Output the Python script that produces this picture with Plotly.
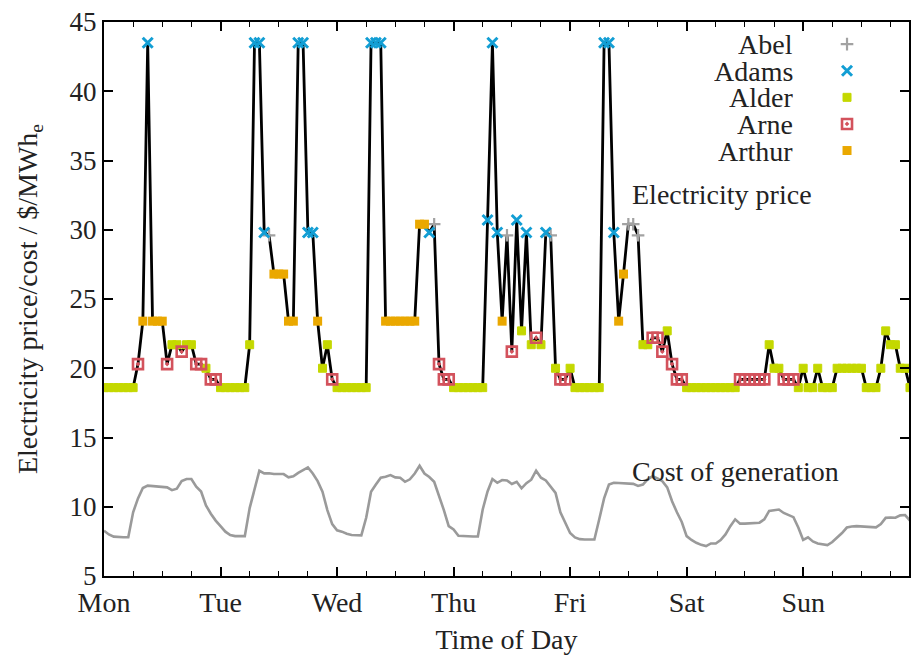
import plotly.graph_objects as go

# ---------------- data ----------------
day_labels = ["Mon", "Tue", "Wed", "Thu", "Fri", "Sat", "Sun"]
day_ticks = [0, 24, 48, 72, 96, 120, 144]

# hourly electricity price ($/MWh_e), hours 0..166
price = [
    # Mon
    18.6, 18.6, 18.6, 18.6, 18.6, 18.6, 18.6, 20.3, 23.4, 43.5, 23.4, 23.4,
    23.4, 20.3, 21.7, 21.7, 21.2, 21.7, 21.7, 20.3, 20.3, 20.0, 19.2, 19.2,
    # Tue
    18.6, 18.6, 18.6, 18.6, 18.6, 18.6, 21.7, 43.5, 43.5, 29.8, 29.6, 26.8,
    26.8, 26.8, 23.4, 23.4, 43.5, 43.5, 29.8, 29.8, 23.4, 20.0, 21.7, 19.2,
    # Wed
    18.6, 18.6, 18.6, 18.6, 18.6, 18.6, 18.6, 43.5, 43.5, 43.5, 23.4, 23.4,
    23.4, 23.4, 23.4, 23.4, 23.4, 30.4, 30.4, 29.8, 30.4, 20.3, 19.2, 19.2,
    # Thu
    18.6, 18.6, 18.6, 18.6, 18.6, 18.6, 18.6, 30.7, 43.5, 29.8, 23.4, 29.6,
    21.2, 30.7, 22.7, 29.8, 21.7, 22.2, 21.7, 29.8, 29.6, 20.0, 19.2, 19.2,
    # Fri
    20.0, 18.6, 18.6, 18.6, 18.6, 18.6, 18.6, 43.5, 43.5, 29.8, 23.4, 26.8,
    30.4, 30.4, 29.6, 21.7, 21.7, 22.2, 22.2, 21.2, 22.7, 20.3, 19.2, 19.2,
    # Sat
    18.6, 18.6, 18.6, 18.6, 18.6, 18.6, 18.6, 18.6, 18.6, 18.6, 18.6, 19.2,
    19.2, 19.2, 19.2, 19.2, 19.2, 21.7, 20.0, 20.0, 19.2, 19.2, 19.2, 18.6,
    # Sun
    20.0, 18.6, 18.6, 20.0, 18.6, 18.6, 18.6, 20.0, 20.0, 20.0, 20.0, 20.0,
    20.0, 18.6, 18.6, 18.6, 20.0, 22.7, 21.7, 21.7, 20.0, 20.0, 18.6,
]

# marginal generator setting the price each hour
price_setter = (
    # Mon
    ["Alder"] * 7 + ["Arne", "Arthur", "Adams", "Arthur", "Arthur", "Arthur", "Arne",
                     "Alder", "Alder", "Arne", "Alder", "Alder", "Arne", "Arne",
                     "Alder", "Arne", "Arne"]
    # Tue
    + ["Alder"] * 6 + ["Alder", "Adams", "Adams", "Adams", "Abel", "Arthur", "Arthur",
                       "Arthur", "Arthur", "Arthur", "Adams", "Adams", "Adams", "Adams",
                       "Arthur", "Alder", "Alder", "Arne"]
    # Wed
    + ["Alder"] * 7 + ["Adams"] * 3 + ["Arthur"] * 7
    + ["Arthur", "Arthur", "Adams", "Abel", "Arne", "Arne", "Arne"]
    # Thu
    + ["Alder"] * 7 + ["Adams", "Adams", "Adams", "Arthur", "Abel", "Arne", "Adams",
                       "Alder", "Adams", "Alder", "Arne", "Alder", "Adams", "Abel",
                       "Alder", "Arne", "Arne"]
    # Fri
    + ["Alder"] * 7 + ["Adams", "Adams", "Adams", "Arthur", "Arthur", "Abel", "Abel",
                       "Abel", "Alder", "Alder", "Arne", "Arne", "Arne", "Alder",
                       "Arne", "Arne", "Arne"]
    # Sat
    + ["Alder"] * 11 + ["Arne"] * 6 + ["Alder", "Alder", "Alder", "Arne", "Arne", "Arne", "Alder"]
    # Sun
    + ["Alder"] * 23
)

# hourly cost of generation ($/MWh_e), hours 0..166
cost = [
    8.27, 8.0, 7.84, 7.8, 7.8, 7.8, 9.6, 10.6, 11.35, 11.52, 11.5, 11.45,
    11.42, 11.4, 11.2, 11.3, 11.85, 12.0, 12.0, 11.45, 11.1, 10.1, 9.5, 9.0,
    8.6, 8.2, 7.95, 7.88, 7.88, 7.88, 9.9, 11.2, 12.6, 12.41, 12.42, 12.36,
    12.36, 12.36, 12.12, 12.2, 12.45, 12.65, 12.84, 12.4, 11.85, 11.08, 9.76, 8.75,
    8.3, 8.2, 8.05, 7.96, 7.93, 7.93, 9.2, 11.08, 11.6, 12.1, 12.17, 12.29,
    12.12, 12.1, 11.8, 11.98, 12.4, 12.96, 12.4, 12.15, 11.8, 10.84, 9.76, 8.6,
    8.36, 7.9, 7.87, 7.85, 7.85, 7.86, 9.8, 11.1, 12.0, 11.73, 11.93, 11.9,
    11.64, 11.8, 11.33, 11.7, 11.95, 12.6, 12.1, 11.9, 11.45, 11.0, 9.6, 8.9,
    8.1, 7.79, 7.66, 7.64, 7.64, 7.64, 9.1, 10.6, 11.6, 11.73, 11.72, 11.69,
    11.69, 11.65, 11.5, 11.6, 12.0, 12.2, 12.05, 11.85, 11.4, 10.4, 9.6, 8.9,
    7.88, 7.6, 7.4, 7.25, 7.16, 7.35, 7.35, 7.6, 8.0, 8.6, 9.09, 8.78,
    8.78, 8.8, 8.82, 8.85, 9.09, 9.7, 9.75, 9.8, 9.55, 9.4, 9.25, 8.5,
    7.6, 7.79, 7.5, 7.35, 7.28, 7.23, 7.45, 7.75, 8.1, 8.5, 8.58, 8.6,
    8.57, 8.55, 8.52, 8.51, 8.75, 9.2, 9.22, 9.21, 9.38, 9.4, 9.0,
]

hours = list(range(len(price)))

generators = ["Abel", "Adams", "Alder", "Arne", "Arthur"]
gen_style = {
    "Abel":   dict(symbol="cross-thin", size=9, color="#a2a2a2", line=dict(width=2.2, color="#a2a2a2")),
    "Adams":  dict(symbol="x-thin", size=10, color="#129ed4", line=dict(width=3, color="#129ed4")),
    "Alder":  dict(symbol="square", size=8, color="#c4d800", line=dict(width=1, color="#c4d800")),
    "Arne":   dict(symbol="square-open-dot", size=10, color="#d3525c", line=dict(width=2.6, color="#d3525c")),
    "Arthur": dict(symbol="square", size=9, color="#eaa800", line=dict(width=0, color="#eaa800")),
}

FONT = "Liberation Serif"
TXT = "#222222"
FS = 28

fig = go.Figure()

# cost of generation
fig.add_trace(go.Scatter(x=hours[:len(cost)], y=cost, mode="lines",
                         line=dict(color="#9a9a9a", width=2.6), hoverinfo="skip",
                         showlegend=False))
# electricity price line
fig.add_trace(go.Scatter(x=hours, y=price, mode="lines",
                         line=dict(color="black", width=2.8), hoverinfo="skip",
                         showlegend=False))
# markers by price setter
for g in generators:
    xs = [h for h, s in zip(hours, price_setter) if s == g]
    ys = [p for p, s in zip(price, price_setter) if s == g]
    fig.add_trace(go.Scatter(x=xs, y=ys, mode="markers", name=g,
                             marker=gen_style[g], showlegend=False))

# legend (text then symbol, as in the original)
leg_rows = [0.960, 0.912, 0.864, 0.816, 0.768]
for g, yy in zip(generators, leg_rows):
    fig.add_annotation(x=0.859, y=yy, xref="paper", yref="paper", text=g,
                       showarrow=False, xanchor="right", yanchor="middle",
                       height=26, font=dict(family=FONT, size=FS, color=TXT))
    fig.add_trace(go.Scatter(x=[0.923], y=[yy], xaxis="x2", yaxis="y2",
                             mode="markers", marker=gen_style[g], cliponaxis=False,
                             hoverinfo="skip", showlegend=False))

fig.add_annotation(x=0.653, y=0.6895, xref="paper", yref="paper",
                   text="Electricity price", showarrow=False, xanchor="left",
                   yanchor="middle", font=dict(family=FONT, size=FS, color=TXT))
fig.add_annotation(x=0.653, y=0.188, xref="paper", yref="paper",
                   text="Cost of generation", showarrow=False, xanchor="left",
                   yanchor="middle", font=dict(family=FONT, size=FS, color=TXT))

minor_vals = [h for h in range(6, 168, 6) if h % 24 != 0]

fig.update_layout(
    width=911, height=655,
    margin=dict(l=104, r=0, t=22, b=79),
    paper_bgcolor="white", plot_bgcolor="white",
    showlegend=False,
    font=dict(family=FONT, size=FS, color=TXT),
    xaxis=dict(range=[0, 165.8], tickvals=day_ticks, ticktext=day_labels,
               ticks="inside", ticklen=9, tickwidth=1.5, tickcolor="black",
               minor=dict(tickvals=minor_vals, ticks="inside", ticklen=5,
                          tickwidth=1.2, tickcolor="black"),
               showline=True, linecolor="black", linewidth=2, mirror="allticks",
               showgrid=False, zeroline=False,
               tickfont=dict(family=FONT, size=FS, color=TXT),
               title=dict(text="Time of Day", font=dict(family=FONT, size=FS, color=TXT),
                          standoff=14)),
    yaxis=dict(range=[5, 45], tickvals=[5, 10, 15, 20, 25, 30, 35, 40, 45],
               ticks="inside", ticklen=9, tickwidth=1.5, tickcolor="black",
               showline=True, linecolor="black", linewidth=2, mirror="allticks",
               showgrid=False, zeroline=False,
               tickfont=dict(family=FONT, size=27, color=TXT),
               title=dict(text="Electricity price/cost / $/MWh<sub>e</sub>",
                          font=dict(family=FONT, size=FS, color=TXT), standoff=24)),
    xaxis2=dict(overlaying="x", range=[0, 1], visible=False, anchor="y2"),
    yaxis2=dict(overlaying="y", range=[0, 1], visible=False, anchor="x2"),
)

fig.write_html("out.html")
